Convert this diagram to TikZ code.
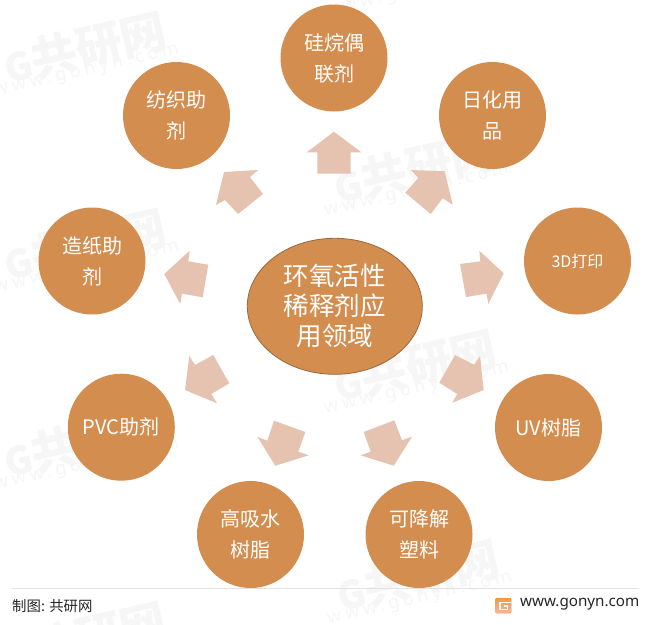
\documentclass[tikz,border=0pt]{standalone}
\usepackage{fontspec}
\setmainfont{Noto Sans CJK SC}
\newfontfamily\wmfont[LetterSpace=22]{Noto Sans}
\newfontfamily\urlfont{Noto Sans}
\definecolor{orangefill}{HTML}{D38D4F}
\definecolor{orangeline}{HTML}{9A683A}
\definecolor{arrowfill}{HTML}{E5C3B0}
\definecolor{wmcolor}{HTML}{F6F6F6}
\definecolor{rulecolor}{HTML}{E2E2E2}
\definecolor{logotop}{HTML}{F39B3C}
\definecolor{logobot}{HTML}{F6B49C}
\tikzset{
  spoke/.style={circle,fill=orangefill,draw=none,minimum size=107pt,inner sep=0pt,text=white,align=center,
    font=\fontsize{20}{31}\selectfont},
  hub/.style={ellipse,fill=orangefill,draw=orangeline,line width=0.8pt,minimum width=175pt,minimum height=136pt,
    inner sep=0pt,text=white,align=center,font=\fontsize{25.5}{30}\selectfont},
  housearrow/.style={fill=arrowfill,draw=none},
  wmbrand/.style={text=wmcolor,rotate=13,inner sep=0pt,font=\fontsize{46}{46}\selectfont\bfseries},
  wmurl/.style={text=wmcolor,rotate=13,inner sep=0pt,font=\fontsize{18}{18}\selectfont\wmfont},
  foottext/.style={text=black!85,inner sep=0pt,anchor=west},
}
\usetikzlibrary{shapes.geometric}
\begin{document}
\begin{tikzpicture}[x=1pt,y=-1pt]
\useasboundingbox (0,0) rectangle (650,624);
\clip (0,0) rectangle (650,624);
\fill[white] (0,0) rectangle (650,624);
% watermarks
\foreach \i/\dx/\dy in {1/0/0,2/0/197,3/0/394,4/0/590,5/330/-80,6/330/120,7/330/318,8/333/528}{
  \node[wmbrand] (wmb\i) at (\dx+85,\dy+48) {{\fontsize{38}{38}\selectfont G}共研网};
  \node[wmurl] (wmu\i) at (\dx+87,\dy+72) {www.gonyn.com};
}
% arrows
\fill[housearrow] (334,131.7) -- (361.3,152.3) -- (350.7,152.3) -- (350.7,173.7) -- (317.3,173.7) -- (317.3,152.3) -- (306.7,152.3) -- cycle;
\fill[housearrow] (411,170) -- (444.7,171.3) -- (452.7,204.7) -- (442.7,198.3) -- (430.7,214) -- (405.3,192.7) -- (418.3,178) -- cycle;
\fill[housearrow] (460,264) -- (480.3,261.3) -- (479.3,250.7) -- (503.7,273.3) -- (488.3,304) -- (486.7,293.7) -- (466,297) -- cycle;
\fill[housearrow] (455,355) -- (474.3,364.7) -- (480,356) -- (483.7,390) -- (452.3,402.7) -- (457.3,394) -- (439.3,382.7) -- cycle;
\fill[housearrow] (394.3,420.3) -- (363.7,432) -- (370.7,451.7) -- (360.7,455.3) -- (393.7,465.7) -- (412,436.7) -- (402,440.3) -- cycle;
\fill[housearrow] (274,420.7) -- (305.3,432) -- (298.3,451.7) -- (308.7,455.3) -- (275.3,465.7) -- (257.3,436.7) -- (267.3,440.7) -- cycle;
\fill[housearrow] (213.3,355) -- (195,365) -- (189.3,356) -- (185,390) -- (217,403.3) -- (211.3,394) -- (229.3,383.3) -- cycle;
\fill[housearrow] (208.3,264.7) -- (188.3,261.3) -- (189.7,250.7) -- (164.3,274) -- (180.3,304) -- (182,293.7) -- (202.7,297.3) -- cycle;
\fill[housearrow] (224,172) -- (258,170) -- (250,177) -- (263,194) -- (238,214) -- (225,200) -- (216,205) -- cycle;
% hub and spokes
\node[hub] (center) at (334.8,306.3) {\raisebox{-1.5pt}{环氧活性}\\\raisebox{-1.5pt}{稀释剂应}\\\raisebox{-1.5pt}{用领域}};
\node[spoke] (n1) at (334,58) {硅烷偶\\联剂};
\node[spoke] (n2) at (492.5,115.5) {日化用\\品};
\node[spoke,font=\fontsize{16}{20}\selectfont] (n3) at (577.5,261) {3D打印};
\node[spoke] (n4) at (548.5,427.5) {UV树脂};
\node[spoke] (n5) at (419,534.5) {可降解\\塑料};
\node[spoke] (n6) at (250.5,534.5) {高吸水\\树脂};
\node[spoke] (n7) at (121.3,427.2) {PVC助剂};
\node[spoke] (n8) at (92,261) {造纸助\\剂};
\node[spoke] (n9) at (176.5,115.5) {纺织助\\剂};
% footer
\draw[rulecolor,line width=0.8pt] (12,588.5) -- (638,588.5);
\node[foottext,font=\fontsize{14.4}{16}\selectfont] (source) at (12,606) {制图: 共研网};
\fill[top color=logotop,bottom color=logobot,rounded corners=1pt] (495.5,598) rectangle (511,613);
\draw[white,line width=1.3pt] (511,602.3) -- (500,602.3) -- (500,609.8) -- (507.5,609.8) -- (507.5,606) -- (503.5,606);
\node[foottext,font=\fontsize{15.2}{18}\selectfont\urlfont] (url) at (520,604) {www.gonyn.com};
\end{tikzpicture}
\end{document}
